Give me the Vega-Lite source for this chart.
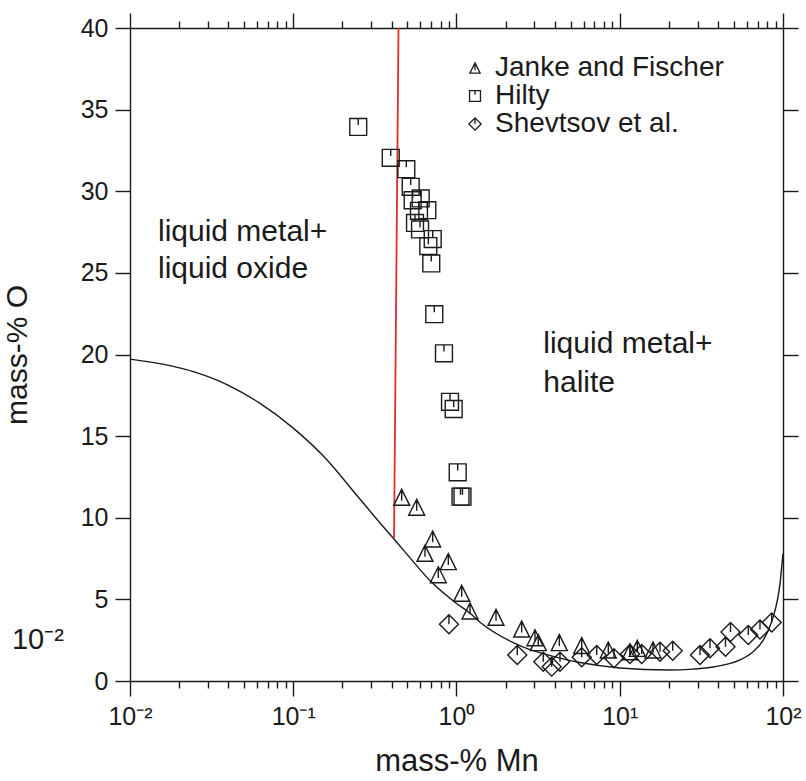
{
  "$schema": "https://vega.github.io/schema/vega-lite/v6.json",
  "width": 653,
  "height": 653,
  "autosize": {"type": "none"},
  "padding": {"left": 130, "top": 28, "right": 23, "bottom": 100},
  "background": "white",
  "config": {
    "font": "Liberation Sans",
    "view": {"stroke": null},
    "axis": {"domainColor": "#1a1a1a", "tickColor": "#1a1a1a", "domainWidth": 1.4, "tickWidth": 1.4, "labelColor": "#1a1a1a", "titleColor": "#1a1a1a", "grid": false}
  },
  "datasets": {
    "curve": [
      {"mn": 0.01, "o": 19.72}, {"mn": 0.0159, "o": 19.41}, {"mn": 0.025, "o": 18.92}, {"mn": 0.0398, "o": 18.13},
      {"mn": 0.0623, "o": 17.02}, {"mn": 0.1, "o": 15.49}, {"mn": 0.157, "o": 13.66}, {"mn": 0.25, "o": 11.27},
      {"mn": 0.34, "o": 9.68}, {"mn": 0.414, "o": 8.7}, {"mn": 0.55, "o": 7.25}, {"mn": 0.688, "o": 6.15},
      {"mn": 1.0, "o": 4.75}, {"mn": 1.21, "o": 4.15}, {"mn": 1.393, "o": 3.6}, {"mn": 2.228, "o": 2.35},
      {"mn": 2.82, "o": 1.92}, {"mn": 3.57, "o": 1.62}, {"mn": 5.71, "o": 1.13}, {"mn": 10.0, "o": 0.8},
      {"mn": 20.0, "o": 0.67}, {"mn": 28.1, "o": 0.73}, {"mn": 37.4, "o": 0.86}, {"mn": 54.5, "o": 1.29},
      {"mn": 65.6, "o": 1.79}, {"mn": 75.7, "o": 2.51}, {"mn": 83.0, "o": 3.33}, {"mn": 87.2, "o": 3.94},
      {"mn": 95.9, "o": 5.98}, {"mn": 100, "o": 7.8}
    ],
    "red": [{"mn": 0.4413, "o": 40}, {"mn": 0.4143, "o": 8.74}],
    "points": [
      {"series": "Hilty", "mn": 0.25, "o": 33.94},
      {"series": "Hilty", "mn": 0.3955, "o": 32.05},
      {"series": "Hilty", "mn": 0.4926, "o": 31.35},
      {"series": "Hilty", "mn": 0.524, "o": 30.27},
      {"series": "Hilty", "mn": 0.539, "o": 29.45},
      {"series": "Hilty", "mn": 0.6035, "o": 29.56},
      {"series": "Hilty", "mn": 0.589, "o": 28.8},
      {"series": "Hilty", "mn": 0.6625, "o": 28.84},
      {"series": "Hilty", "mn": 0.557, "o": 28.06},
      {"series": "Hilty", "mn": 0.598, "o": 27.66},
      {"series": "Hilty", "mn": 0.715, "o": 27.07},
      {"series": "Hilty", "mn": 0.672, "o": 26.64},
      {"series": "Hilty", "mn": 0.7005, "o": 25.58},
      {"series": "Hilty", "mn": 0.731, "o": 22.47},
      {"series": "Hilty", "mn": 0.838, "o": 20.07},
      {"series": "Hilty", "mn": 0.9125, "o": 17.1},
      {"series": "Hilty", "mn": 0.961, "o": 16.66},
      {"series": "Hilty", "mn": 1.017, "o": 12.78},
      {"series": "Hilty", "mn": 1.058, "o": 11.29},
      {"series": "Hilty", "mn": 1.088, "o": 11.29},
      {"series": "Janke and Fischer", "mn": 0.4616, "o": 11.25},
      {"series": "Janke and Fischer", "mn": 0.5703, "o": 10.64},
      {"series": "Janke and Fischer", "mn": 0.7147, "o": 8.7},
      {"series": "Janke and Fischer", "mn": 0.6412, "o": 7.82},
      {"series": "Janke and Fischer", "mn": 0.8909, "o": 7.31},
      {"series": "Janke and Fischer", "mn": 0.7737, "o": 6.51},
      {"series": "Janke and Fischer", "mn": 1.076, "o": 5.37},
      {"series": "Janke and Fischer", "mn": 1.21, "o": 4.29},
      {"series": "Janke and Fischer", "mn": 1.746, "o": 3.9},
      {"series": "Janke and Fischer", "mn": 2.507, "o": 3.18},
      {"series": "Janke and Fischer", "mn": 3.026, "o": 2.65},
      {"series": "Janke and Fischer", "mn": 3.171, "o": 2.35},
      {"series": "Janke and Fischer", "mn": 4.264, "o": 2.35},
      {"series": "Janke and Fischer", "mn": 5.847, "o": 2.17},
      {"series": "Janke and Fischer", "mn": 8.508, "o": 1.9},
      {"series": "Janke and Fischer", "mn": 11.55, "o": 1.79},
      {"series": "Janke and Fischer", "mn": 12.81, "o": 2.0},
      {"series": "Janke and Fischer", "mn": 15.99, "o": 1.9},
      {"series": "Shevtsov et al.", "mn": 0.899, "o": 3.47},
      {"series": "Shevtsov et al.", "mn": 2.357, "o": 1.59},
      {"series": "Shevtsov et al.", "mn": 3.401, "o": 1.18},
      {"series": "Shevtsov et al.", "mn": 3.83, "o": 0.88},
      {"series": "Shevtsov et al.", "mn": 4.305, "o": 1.18},
      {"series": "Shevtsov et al.", "mn": 5.847, "o": 1.45},
      {"series": "Shevtsov et al.", "mn": 7.225, "o": 1.59},
      {"series": "Shevtsov et al.", "mn": 9.22, "o": 1.39},
      {"series": "Shevtsov et al.", "mn": 11.55, "o": 1.65},
      {"series": "Shevtsov et al.", "mn": 13.63, "o": 1.65},
      {"series": "Shevtsov et al.", "mn": 17.65, "o": 1.79},
      {"series": "Shevtsov et al.", "mn": 21.11, "o": 1.86},
      {"series": "Shevtsov et al.", "mn": 31.01, "o": 1.59},
      {"series": "Shevtsov et al.", "mn": 35.72, "o": 2.0},
      {"series": "Shevtsov et al.", "mn": 44.44, "o": 2.1},
      {"series": "Shevtsov et al.", "mn": 47.69, "o": 3.0},
      {"series": "Shevtsov et al.", "mn": 61.29, "o": 2.82},
      {"series": "Shevtsov et al.", "mn": 72.29, "o": 3.15},
      {"series": "Shevtsov et al.", "mn": 85.25, "o": 3.58}
    ],
    "labels": [
      {"mn": 0.01484, "o": 26.94, "text": "liquid metal+", "size": 30},
      {"mn": 0.01484, "o": 24.7, "text": "liquid oxide", "size": 30},
      {"mn": 3.4, "o": 20.07, "text": "liquid metal+", "size": 30},
      {"mn": 3.4, "o": 17.72, "text": "halite", "size": 30},
      {"mn": 0.001893, "o": 1.94, "text": "10\u207b\u00b2", "size": 29}
    ]
  },
  "resolve": {"axis": {"x": "independent", "y": "independent"}},
  "layer": [
    {
      "data": {"name": "curve"},
      "mark": {"type": "line", "color": "#1a1a1a", "strokeWidth": 1.4, "clip": true, "interpolate": "monotone"},
      "encoding": {
        "x": {"field": "mn", "type": "quantitative",
          "scale": {"type": "log", "domain": [0.01, 100], "nice": false},
          "axis": {"orient": "bottom", "values": [0.01, 0.1, 1, 10, 100], "tickSize": 15, "labelFontSize": 25, "labelPadding": 8,
            "labelExpr": "datum.value < 0.05 ? '10\u207b\u00b2' : datum.value < 0.5 ? '10\u207b\u00b9' : datum.value < 5 ? '10\u2070' : datum.value < 50 ? '10\u00b9' : '10\u00b2'",
            "labelFlush": false, "title": "mass-% Mn", "titleFontSize": 31, "titleFontWeight": "normal", "titlePadding": 17}},
        "y": {"field": "o", "type": "quantitative",
          "scale": {"domain": [0, 40], "nice": false},
          "axis": {"orient": "left", "values": [0, 5, 10, 15, 20, 25, 30, 35, 40], "tickSize": 15, "labelFontSize": 25, "labelPadding": 7, "labelFlush": false,
            "title": "mass-% O", "titleFontSize": 30, "titleFontWeight": "normal", "titlePadding": 48}}
      }
    },
    {
      "data": {"name": "red"},
      "mark": {"type": "line", "color": "#e0302a", "strokeWidth": 1.8},
      "encoding": {
        "x": {"field": "mn", "type": "quantitative", "scale": {"type": "log", "domain": [0.01, 100], "nice": false},
          "axis": {"orient": "top", "values": [0.01, 0.1, 1, 10, 100], "tickSize": 15, "labels": false, "title": null}},
        "y": {"field": "o", "type": "quantitative", "scale": {"domain": [0, 40], "nice": false},
          "axis": {"orient": "right", "values": [0, 5, 10, 15, 20, 25, 30, 35, 40], "tickSize": 15, "labels": false, "title": null}}
      }
    },
    {
      "data": {"name": "points"},
      "mark": {"type": "point", "filled": false, "color": "#1a1a1a", "strokeWidth": 1.4, "opacity": 1, "size": 361},
      "encoding": {
        "x": {"field": "mn", "type": "quantitative", "scale": {"type": "log", "domain": [0.01, 100], "nice": false},
          "axis": {"orient": "bottom", "values": [0.02, 0.03, 0.04, 0.05, 0.06, 0.07, 0.08, 0.09, 0.2, 0.3, 0.4, 0.5, 0.6, 0.7, 0.8, 0.9, 2, 3, 4, 5, 6, 7, 8, 9, 20, 30, 40, 50, 60, 70, 80, 90], "tickSize": 7, "labels": false, "domain": false, "title": null}},
        "y": {"field": "o", "type": "quantitative", "scale": {"domain": [0, 40], "nice": false}, "axis": null},
        "shape": {"field": "series", "type": "nominal",
          "scale": {"domain": ["Janke and Fischer", "Hilty", "Shevtsov et al."],
            "range": ["M0,-0.84L0.84,0.84L-0.84,0.84Z M0,-0.84L0,0.35", "M-0.89,-0.89H0.89V0.89H-0.89Z M0,-0.89L0,-0.2", "M0,-1L1,0L0,1L-1,0Z M0,-1L0,0"]},
          "legend": {"orient": "none", "legendX": 331, "legendY": 26, "title": null, "symbolSize": 150, "labelFontSize": 28, "labelOffset": 6, "labelLimit": 500,
            "rowPadding": 0, "symbolStrokeWidth": 1.3, "symbolStrokeColor": "#1a1a1a", "symbolFillColor": "transparent", "padding": 0, "labelColor": "#1a1a1a", "labelFont": "Liberation Sans"}}
      }
    },
    {
      "data": {"name": "labels"},
      "mark": {"type": "text", "align": "left", "baseline": "alphabetic", "color": "#1a1a1a"},
      "encoding": {
        "x": {"field": "mn", "type": "quantitative", "scale": {"type": "log", "domain": [0.01, 100], "nice": false},
          "axis": {"orient": "top", "values": [0.02, 0.03, 0.04, 0.05, 0.06, 0.07, 0.08, 0.09, 0.2, 0.3, 0.4, 0.5, 0.6, 0.7, 0.8, 0.9, 2, 3, 4, 5, 6, 7, 8, 9, 20, 30, 40, 50, 60, 70, 80, 90], "tickSize": 7, "labels": false, "domain": false, "title": null}},
        "y": {"field": "o", "type": "quantitative", "scale": {"domain": [0, 40], "nice": false}, "axis": null},
        "text": {"field": "text"},
        "size": {"field": "size", "type": "quantitative", "scale": null}
      }
    }
  ]
}
